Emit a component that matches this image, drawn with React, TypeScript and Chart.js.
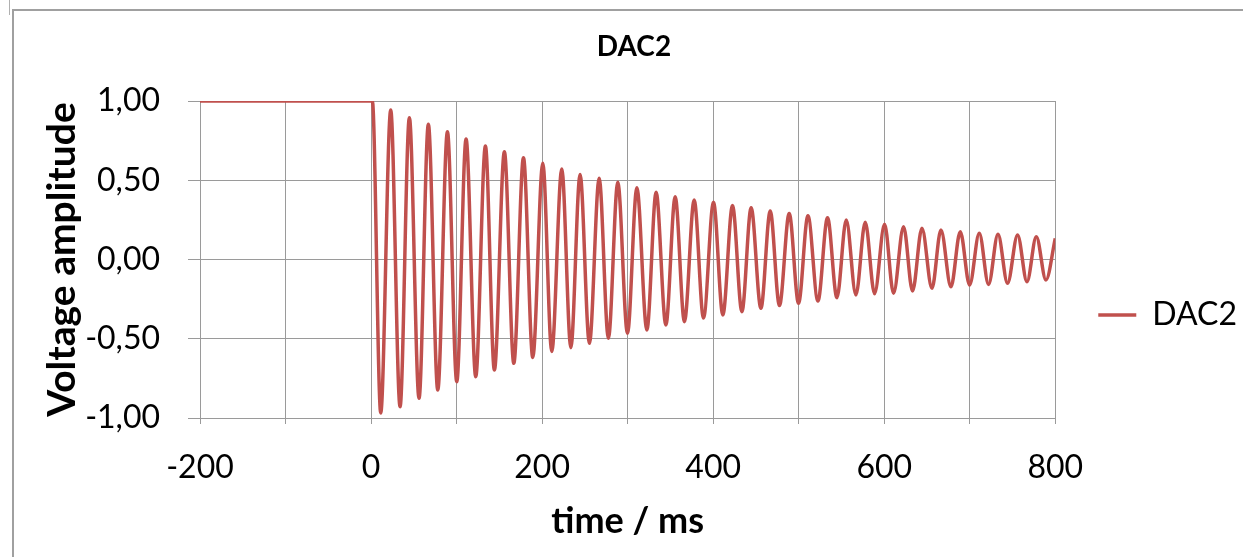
import React, { useEffect, useRef } from 'react';
import { Chart, registerables } from 'chart.js';

Chart.register(...registerables);

const chartTitle = 'DAC2';
const seriesName = 'DAC2';
const xAxisTitle = 'time / ms';
const yAxisTitle = 'Voltage amplitude';

// x gridlines every 100 ms, labels only on these values
const xLabelValues = [-200, 0, 200, 400, 600, 800];

// flat level, then the extrema of the damped oscillation
const timeMs = [
  -200, 1.5,
  11.3, 23.0, 33.9, 44.8, 56.1, 67.0, 78.0, 89.3, 100.2, 111.1,
  122.4, 133.7, 144.2, 155.9, 166.9, 178.2, 189.1, 200.8, 211.3, 223.0,
  233.6, 244.4, 255.3, 266.7, 277.5, 288.5, 299.8, 310.8, 322.5, 333.3,
  344.7, 355.6, 366.4, 377.8, 388.7, 400.4, 411.3, 422.6, 433.6, 444.4,
  455.8, 466.7, 477.5, 488.9, 499.8, 510.8, 522.5, 533.7, 544.7, 555.6,
  566.9, 577.8, 588.7, 600.4, 610.9, 622.6, 633.1, 644.1, 655.8, 666.3,
  678.0, 688.9, 699.8, 711.1, 722.0, 733.0, 744.2, 755.9, 766.9, 777.8,
  789.1, 800.0,
];

const voltage = [
  1.0, 1.0,
  -0.968, 0.943, -0.929, 0.895, -0.876, 0.853, -0.823, 0.806, -0.771, 0.760,
  -0.739, 0.716, -0.697, 0.680, -0.655, 0.642, -0.618, 0.607, -0.581, 0.571,
  -0.556, 0.537, -0.529, 0.512, -0.497, 0.487, -0.466, 0.453, -0.445, 0.424,
  -0.413, 0.396, -0.392, 0.375, -0.369, 0.361, -0.350, 0.340, -0.329, 0.327,
  -0.308, 0.306, -0.291, 0.291, -0.276, 0.276, -0.262, 0.264, -0.241, 0.249,
  -0.224, 0.235, -0.216, 0.222, -0.213, 0.207, -0.199, 0.197, -0.182, 0.186,
  -0.172, 0.175, -0.161, 0.165, -0.157, 0.159, -0.150, 0.155, -0.140, 0.144,
  -0.129, 0.134,
];

const FONT = 'Lato';
const GRID = '#9a9a9a';
const LINE = '#C0504D';

export default function App() {
  const canvasRef = useRef<HTMLCanvasElement | null>(null);

  useEffect(() => {
    if (!canvasRef.current) return;
    const points = timeMs.map((t, i) => ({ x: t, y: voltage[i] }));
    const chart = new Chart(canvasRef.current, {
      type: 'line',
      data: {
        datasets: [
          {
            label: seriesName,
            data: points,
            borderColor: LINE,
            backgroundColor: LINE,
            borderWidth: 3.5,
            pointRadius: 0,
            fill: false,
            cubicInterpolationMode: 'monotone',
          },
        ],
      },
      options: {
        animation: false,
        responsive: false,
        devicePixelRatio: 1,
        layout: { padding: { left: 21, right: -4, top: 0, bottom: 0 } },
        plugins: {
          tooltip: { enabled: false },
          title: {
            display: true,
            text: chartTitle,
            color: '#000',
            font: { family: FONT, size: 28, weight: 'bold', lineHeight: 1.2 },
            padding: { top: 30, bottom: 37.4 },
          },
          legend: {
            display: true,
            position: 'right',
            title: {
              display: true,
              text: ' ',
              font: { family: FONT, size: 10, lineHeight: 1.2 },
              padding: { top: 30.5, bottom: 30.5 },
            },
            labels: {
              color: '#000',
              font: { family: FONT, size: 32 },
              usePointStyle: true,
              pointStyle: 'line',
              pointStyleWidth: 38,
              boxHeight: 32,
              padding: 43,
            },
          },
        },
        scales: {
          x: {
            type: 'linear',
            min: -200,
            max: 800,
            afterFit: (scale: any) => {
              scale.height = 139;
            },
            ticks: {
              stepSize: 100,
              autoSkip: false,
              maxRotation: 0,
              color: '#000',
              padding: 24,
              font: { family: FONT, size: 32, lineHeight: 1.2 },
              callback: (v: any) => (xLabelValues.includes(Number(v)) ? String(v) : ''),
            },
            grid: { color: GRID, lineWidth: 1, tickLength: 6, tickColor: GRID },
            border: { color: GRID, width: 1 },
            title: {
              display: true,
              text: xAxisTitle,
              color: '#000',
              font: { family: FONT, size: 36, weight: 'bold', lineHeight: 1.2 },
              padding: { top: 0, bottom: 14 },
            },
          },
          y: {
            min: -1,
            max: 1,
            afterFit: (scale: any) => {
              scale.width = 179;
            },
            ticks: {
              stepSize: 0.5,
              color: '#000',
              padding: 28,
              font: { family: FONT, size: 32, lineHeight: 1.2 },
              callback: (v: any) => Number(v).toFixed(2).replace('.', ','),
            },
            grid: { color: GRID, lineWidth: 1, tickLength: 12, tickColor: GRID },
            border: { color: GRID, width: 1 },
            title: {
              display: true,
              text: yAxisTitle,
              color: '#000',
              font: { family: FONT, size: 39, weight: 'bold', lineHeight: 1.2 },
              padding: { top: 17.6, bottom: 0 },
            },
          },
        },
      },
    });
    return () => chart.destroy();
  }, []);

  return (
    <div style={{ position: 'absolute', left: 0, top: 0, width: 1243, height: 557, background: '#fff', overflow: 'hidden' }}>
      <canvas ref={canvasRef} width={1243} height={557} style={{ position: 'absolute', left: 0, top: 0 }} />
      <div
        style={{
          position: 'absolute',
          left: 12,
          top: 9,
          width: 1300,
          height: 600,
          borderLeft: '2px solid #a0a0a0',
          borderTop: '2px solid #a0a0a0',
          pointerEvents: 'none',
        }}
      />
      <div style={{ position: 'absolute', left: 9, top: 0, width: 1, height: 15, background: '#b0b0b0' }} />
    </div>
  );
}
